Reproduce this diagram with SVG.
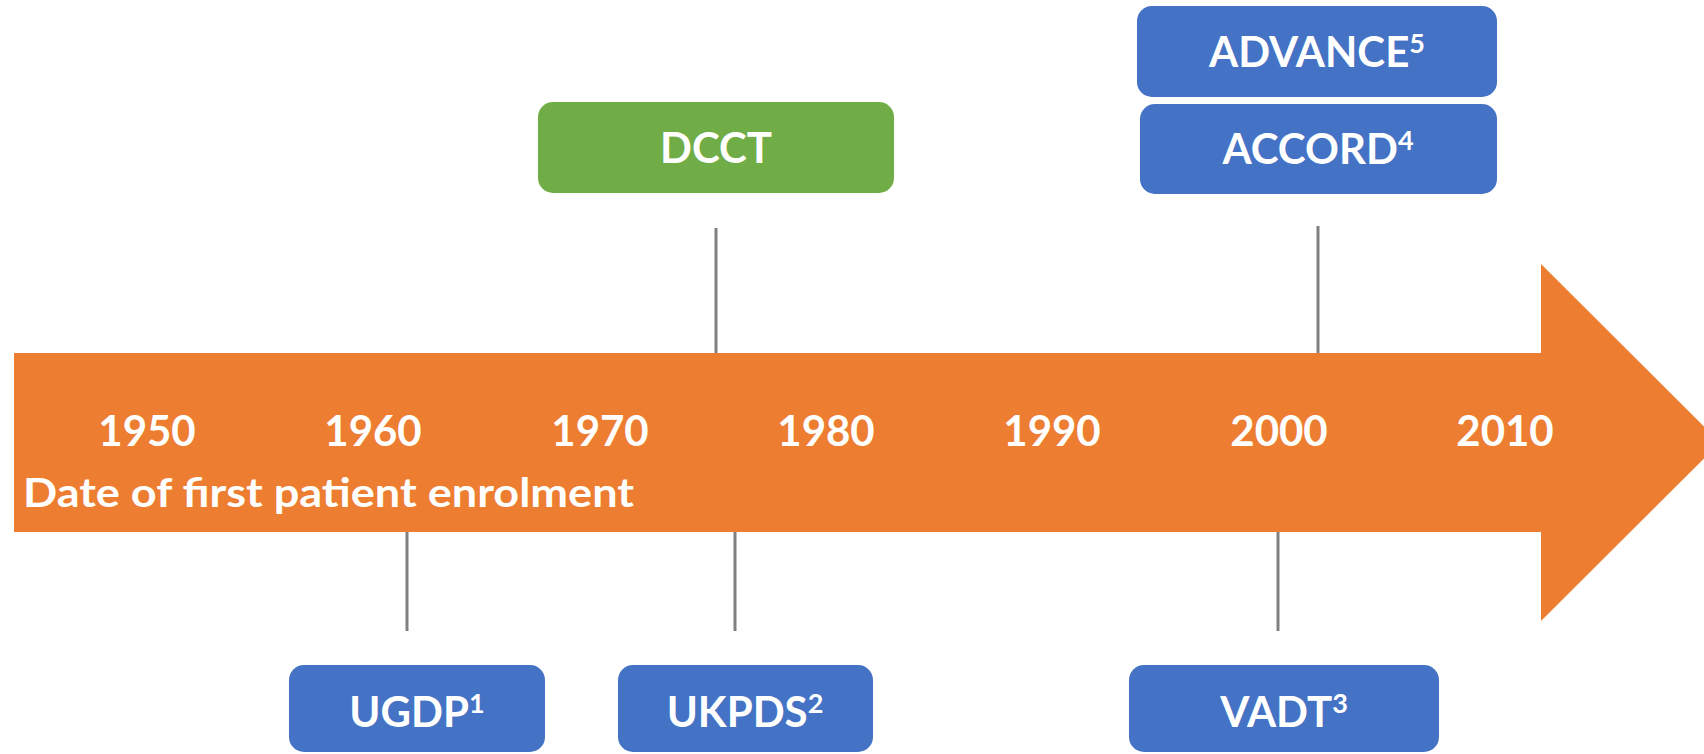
<svg xmlns="http://www.w3.org/2000/svg" width="1704" height="754" viewBox="0 0 1704 754">
<style>
.t{font-family:Lato,"Liberation Sans",sans-serif;font-weight:bold;fill:#fff}
.lbl{font-size:42px;text-anchor:middle}
.sup{font-size:27px}
.yr{font-size:42px;text-anchor:middle}
.blue{fill:#4472C4}
.green{fill:#70AD47}
.conn line{stroke:#808080;stroke-width:3}
</style>
<rect width="1704" height="754" fill="#fff"/>
<g id="timeline">
<polygon points="14,353 1541,353 1541,264 1720,442.5 1541,621 1541,532 14,532" fill="#ED7D31"/>
<text class="t yr" x="147" y="446">1950</text>
<text class="t yr" x="373" y="446">1960</text>
<text class="t yr" x="600" y="446">1970</text>
<text class="t yr" x="826" y="446">1980</text>
<text class="t yr" x="1052" y="446">1990</text>
<text class="t yr" x="1279" y="446">2000</text>
<text class="t yr" x="1505" y="446">2010</text>
<text class="t" x="23" y="507" font-size="41" textLength="611" lengthAdjust="spacingAndGlyphs">Date of first patient enrolment</text>
</g>
<g class="conn" id="connectors">
<line x1="716" y1="228" x2="716" y2="353"/>
<line x1="1318" y1="226" x2="1318" y2="353"/>
<line x1="407" y1="532" x2="407" y2="631"/>
<line x1="735" y1="532" x2="735" y2="631"/>
<line x1="1278" y1="532" x2="1278" y2="631"/>
</g>
<g id="advance">
<rect class="blue" x="1137" y="6" width="360" height="91" rx="15"/>
<text class="t lbl" x="1317" y="67">ADVANCE<tspan class="sup" dy="-14">5</tspan></text>
</g>
<g id="accord">
<rect class="blue" x="1140" y="104" width="357" height="90" rx="15"/>
<text class="t lbl" x="1318" y="164">ACCORD<tspan class="sup" dy="-14">4</tspan></text>
</g>
<g id="dcct">
<rect class="green" x="538" y="102" width="356" height="91" rx="15"/>
<text class="t lbl" x="716" y="163">DCCT</text>
</g>
<g id="ugdp">
<rect class="blue" x="289" y="665" width="256" height="87" rx="15"/>
<text class="t lbl" x="417" y="727">UGDP<tspan class="sup" dy="-14">1</tspan></text>
</g>
<g id="ukpds">
<rect class="blue" x="618" y="665" width="255" height="87" rx="15"/>
<text class="t lbl" x="745" y="727">UKPDS<tspan class="sup" dy="-14">2</tspan></text>
</g>
<g id="vadt">
<rect class="blue" x="1129" y="665" width="310" height="87" rx="15"/>
<text class="t lbl" x="1284" y="727">VADT<tspan class="sup" dy="-14">3</tspan></text>
</g>
</svg>
